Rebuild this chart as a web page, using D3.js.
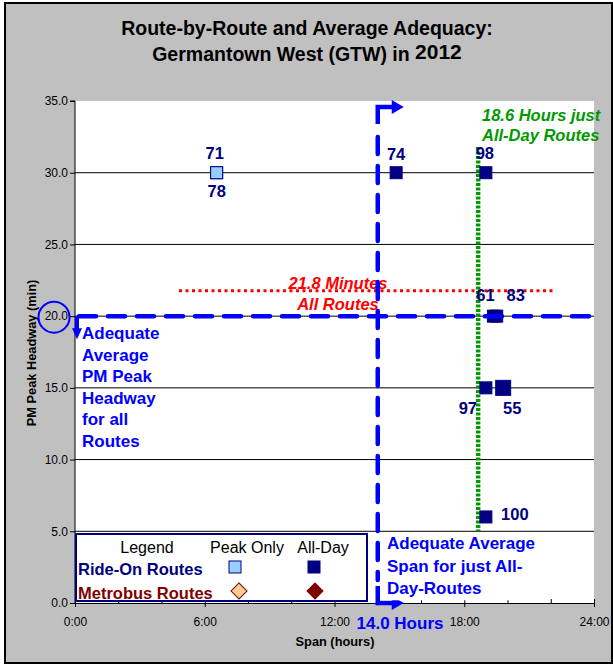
<!DOCTYPE html>
<html>
<head>
<meta charset="utf-8">
<script src="https://cdn.jsdelivr.net/npm/d3@7"></script>
<style>
  body { margin: 0; background: #fff; }
  svg { display: block; font-family: "Liberation Sans", Arial, sans-serif; }
</style>
</head>
<body>
<div class="chart"></div>
<script>
// route data
const routes     = ["71", "78", "74", "98", "61", "83", "97", "55", "100"];
const spanHours  = [6.55, 6.55, 14.85, 19.0, 19.35, 19.5, 19.0, 19.8, 19.0];
const headwayMin = [30, 30, 30, 30, 20, 20, 15, 15, 6];
const service    = ["Peak Only", "Peak Only", "All-Day", "All-Day", "All-Day", "All-Day", "All-Day", "All-Day", "All-Day"];

const adequateHeadway = 20;
const adequateSpan = 14.0;

const yTicks = [0, 5, 10, 15, 20, 25, 30, 35];
const xTicks = [0, 6, 12, 18, 24];
const xMinor = [0, 2, 4, 6, 8, 10, 12, 14, 16, 18, 20, 22, 24];

const legendCols = ["Peak Only", "All-Day"];
const legendRows = ["Ride-On Routes", "Metrobus Routes"];

const data = routes.map((r, i) => ({route: r, span: spanHours[i], headway: headwayMin[i], service: service[i]}));

const avgHeadway = d3.mean(headwayMin);
const avgSpanAllDay = d3.mean(data.filter(d => d.service == "All-Day"), d => d.span);

const W = 613, H = 664;
const blue = "#0000ff", navy = "#000080", maroon = "#800000";

const svg = d3.select(".chart").append("svg")
    .attr("width", W)
    .attr("height", H);

// outer frame
svg.append("rect")
    .attr("x", 5).attr("y", 3)
    .attr("width", 607).attr("height", 660)
    .attr("fill", "#c0c0c0")
    .attr("stroke", "#000")
    .attr("stroke-width", 2);

const xScale = d3.scaleLinear().domain([0, 24]).range([75, 594]);
const yScale = d3.scaleLinear().domain([0, 35]).range([603, 101]);

// plot area
svg.append("rect")
    .attr("x", xScale(0)).attr("y", yScale(35))
    .attr("width", xScale(24) - xScale(0))
    .attr("height", yScale(0) - yScale(35))
    .attr("fill", "#fff");

// title
const title = svg.append("text")
    .attr("text-anchor", "middle")
    .attr("font-weight", "bold")
    .attr("font-size", 19.5);
title.append("tspan").attr("x", 307).attr("y", 35).text("Route-by-Route and Average Adequacy:");
const t2 = title.append("tspan").attr("x", 307).attr("y", 61);
t2.append("tspan").text("Germantown West (GTW) in ");
t2.append("tspan").attr("font-size", 21).attr("dy", -2).text("2012");

// gridlines
svg.append("g")
    .selectAll("line")
    .data(yTicks.filter(t => t > 0 && t < 35))
    .enter()
    .append("line")
    .attr("x1", xScale(0)).attr("x2", xScale(24))
    .attr("y1", d => yScale(d)).attr("y2", d => yScale(d))
    .attr("stroke", "#000")
    .attr("stroke-width", 1);

// axes
const yAxis = d3.axisLeft(yScale)
    .tickValues(yTicks)
    .tickFormat(d3.format(".1f"))
    .tickSize(5)
    .tickPadding(2);
const gy = svg.append("g")
    .attr("transform", `translate(${xScale(0)},0)`)
    .call(yAxis);
gy.select(".domain").attr("d", `M-5,${yScale(35)}H0V${yScale(0)}`);

const xAxis = d3.axisBottom(xScale)
    .tickValues(xTicks)
    .tickFormat(d => d + ":00")
    .tickSize(4)
    .tickPadding(10);
const gx = svg.append("g")
    .attr("transform", `translate(0,${yScale(0)})`)
    .call(xAxis);
svg.append("g")
    .attr("transform", `translate(0,${yScale(0)})`)
    .call(d3.axisBottom(xScale).tickValues(xMinor).tickSize(-4).tickFormat(""))
    .select(".domain").remove();

svg.selectAll(".tick text")
    .attr("font-family", "Liberation Sans, Arial, sans-serif")
    .attr("font-size", 12)
    .attr("fill", "#000");
svg.selectAll(".domain, .tick line").attr("stroke", "#000");

// axis titles
svg.append("text")
    .attr("transform", `translate(36,${(yScale(0) + yScale(35)) / 2 + 1})rotate(-90)`)
    .attr("text-anchor", "middle")
    .attr("font-weight", "bold")
    .attr("font-size", 12.8)
    .text("PM Peak Headway (min)");
svg.append("text")
    .attr("x", 335).attr("y", 646)
    .attr("text-anchor", "middle")
    .attr("font-weight", "bold")
    .attr("font-size", 12.8)
    .text("Span (hours)");

// average headway (red dotted)
svg.append("line")
    .attr("x1", 179).attr("x2", 555)
    .attr("y1", yScale(avgHeadway)).attr("y2", yScale(avgHeadway))
    .attr("stroke", "#ff0000")
    .attr("stroke-width", 3)
    .attr("stroke-dasharray", "3,3.5");

// average span of all-day routes (green dotted)
svg.append("line")
    .attr("x1", xScale(avgSpanAllDay)).attr("x2", xScale(avgSpanAllDay))
    .attr("y1", yScale(31.8)).attr("y2", yScale(5))
    .attr("stroke", "#009900")
    .attr("stroke-width", 4.5)
    .attr("stroke-dasharray", "3,1.5");

// points
const sizeOf = d => d.route == "55" ? 15 : 12;
svg.append("g")
    .selectAll("rect")
    .data(data)
    .enter()
    .append("rect")
    .attr("x", d => xScale(d.span) - sizeOf(d) / 2)
    .attr("y", d => yScale(d.headway) - sizeOf(d) / 2)
    .attr("width", sizeOf)
    .attr("height", sizeOf)
    .attr("fill", d => d.service == "Peak Only" ? "#99ccff" : navy)
    .attr("stroke", navy)
    .attr("stroke-width", 1);

// point labels
const labelPos = {"71": [-2, -14], "78": [0, 24], "74": [0, -13], "98": [-1, -14],
    "61": [-8, -15], "83": [19, -15], "97": [-18, 26], "55": [9, 26], "100": [29, 3]};
svg.append("g")
    .selectAll("text")
    .data(data)
    .enter()
    .append("text")
    .attr("x", d => xScale(d.span) + labelPos[d.route][0])
    .attr("y", d => yScale(d.headway) + labelPos[d.route][1])
    .attr("text-anchor", "middle")
    .attr("font-weight", "bold")
    .attr("font-size", 16.5)
    .attr("fill", navy)
    .text(d => d.route);

// red label
const redLabel = svg.append("text")
    .attr("text-anchor", "middle")
    .attr("font-weight", "bold")
    .attr("font-style", "italic")
    .attr("font-size", 16.5)
    .attr("fill", "#ff0000");
redLabel.append("tspan").attr("x", 338).attr("y", 289).text(d3.format(".1f")(avgHeadway) + " Minutes");
redLabel.append("tspan").attr("x", 338).attr("y", 310).text("All Routes");

// green label
const greenLabel = svg.append("text")
    .attr("font-weight", "bold")
    .attr("font-style", "italic")
    .attr("font-size", 16.5)
    .attr("fill", "#009900");
greenLabel.append("tspan").attr("x", 482).attr("y", 121).text(d3.format(".1f")(avgSpanAllDay) + " Hours just");
greenLabel.append("tspan").attr("x", 482).attr("y", 141).text("All-Day Routes");

// adequate headway line (blue dashed)
const yAdq = yScale(adequateHeadway);
svg.append("line")
    .attr("x1", xScale(0) + 4).attr("x2", 599)
    .attr("y1", yAdq).attr("y2", yAdq)
    .attr("stroke", blue)
    .attr("stroke-width", 4.5)
    .attr("stroke-linecap", "round")
    .attr("stroke-dasharray", "17,12");
svg.append("path")
    .attr("d", `M77,${yAdq}V${yAdq + 14}`)
    .attr("stroke", blue).attr("stroke-width", 4).attr("fill", "none");
svg.append("path")
    .attr("d", `M72,${yAdq + 12}L82,${yAdq + 12}L77,${yAdq + 23}Z`)
    .attr("fill", blue);
svg.append("circle")
    .attr("cx", 54).attr("cy", yAdq + 1)
    .attr("r", 15.5)
    .attr("fill", "none")
    .attr("stroke", blue)
    .attr("stroke-width", 2);

// adequate span line (blue dashed, with corner arrows)
const xAdq = xScale(adequateSpan);
svg.append("line")
    .attr("x1", xAdq).attr("x2", xAdq)
    .attr("y1", 137).attr("y2", 580)
    .attr("stroke", blue)
    .attr("stroke-width", 4.5)
    .attr("stroke-linecap", "round")
    .attr("stroke-dasharray", "17,12");
[[107, 124], [603, 586]].forEach(([yc, yEnd]) => {
    svg.append("path")
        .attr("d", `M${xAdq},${yEnd}V${yc}H${xAdq + 15}`)
        .attr("stroke", blue).attr("stroke-width", 4.5).attr("fill", "none");
    svg.append("path")
        .attr("d", `M${xAdq + 14},${yc - 7}L${xAdq + 26},${yc}L${xAdq + 14},${yc + 7}Z`)
        .attr("fill", blue);
});

// text annotations
const leftNote = svg.append("text")
    .attr("font-weight", "bold")
    .attr("font-size", 17)
    .attr("fill", blue);
["Adequate", "Average", "PM Peak", "Headway", "for all", "Routes"].forEach((s, i) => {
    leftNote.append("tspan").attr("x", 82).attr("y", 339 + i * 21.6).text(s);
});

svg.append("rect")
    .attr("x", 382).attr("y", yScale(5) + 1)
    .attr("width", 161).attr("height", 68)
    .attr("fill", "#fff");
const spanNote = svg.append("text")
    .attr("font-weight", "bold")
    .attr("font-size", 17)
    .attr("fill", blue);
["Adequate Average", "Span for just All-", "Day-Routes"].forEach((s, i) => {
    spanNote.append("tspan").attr("x", 387).attr("y", 549 + i * 22.5).text(s);
});

svg.append("text")
    .attr("x", 400).attr("y", 629)
    .attr("text-anchor", "middle")
    .attr("font-weight", "bold")
    .attr("font-size", 17)
    .attr("fill", blue)
    .text(d3.format(".1f")(adequateSpan) + " Hours");

// legend
const lg = svg.append("g");
lg.append("rect")
    .attr("x", 76).attr("y", 534)
    .attr("width", 291).attr("height", 67)
    .attr("fill", "#fff")
    .attr("stroke", navy)
    .attr("stroke-width", 2);
const colX = [239, 314];
lg.append("text")
    .attr("x", 147).attr("y", 553)
    .attr("text-anchor", "middle")
    .attr("font-size", 16)
    .text("Legend");
lg.selectAll(".colhead")
    .data(legendCols)
    .enter()
    .append("text")
    .attr("x", (d, i) => i == 0 ? 247 : 323)
    .attr("y", 553)
    .attr("text-anchor", "middle")
    .attr("font-size", 16)
    .text(d => d);
lg.selectAll(".rowhead")
    .data(legendRows)
    .enter()
    .append("text")
    .attr("x", 78)
    .attr("y", (d, i) => 575 + i * 24)
    .attr("font-weight", "bold")
    .attr("font-size", 16.5)
    .attr("fill", (d, i) => i == 0 ? navy : maroon)
    .text(d => d);
// ride-on squares
lg.append("rect").attr("x", 229).attr("y", 561).attr("width", 12).attr("height", 12)
    .attr("fill", "#99ccff").attr("stroke", navy);
lg.append("rect").attr("x", 308).attr("y", 561).attr("width", 12).attr("height", 12)
    .attr("fill", navy).attr("stroke", navy);
// metrobus diamonds
const diamond = d3.symbol().type(d3.symbolSquare).size(128);
lg.append("path").attr("d", diamond)
    .attr("transform", `translate(${colX[0]},591)rotate(45)`)
    .attr("fill", "#ffcc99").attr("stroke", maroon);
lg.append("path").attr("d", diamond)
    .attr("transform", `translate(${colX[1] + 1},591)rotate(45)`)
    .attr("fill", maroon).attr("stroke", maroon);
</script>
</body>
</html>
